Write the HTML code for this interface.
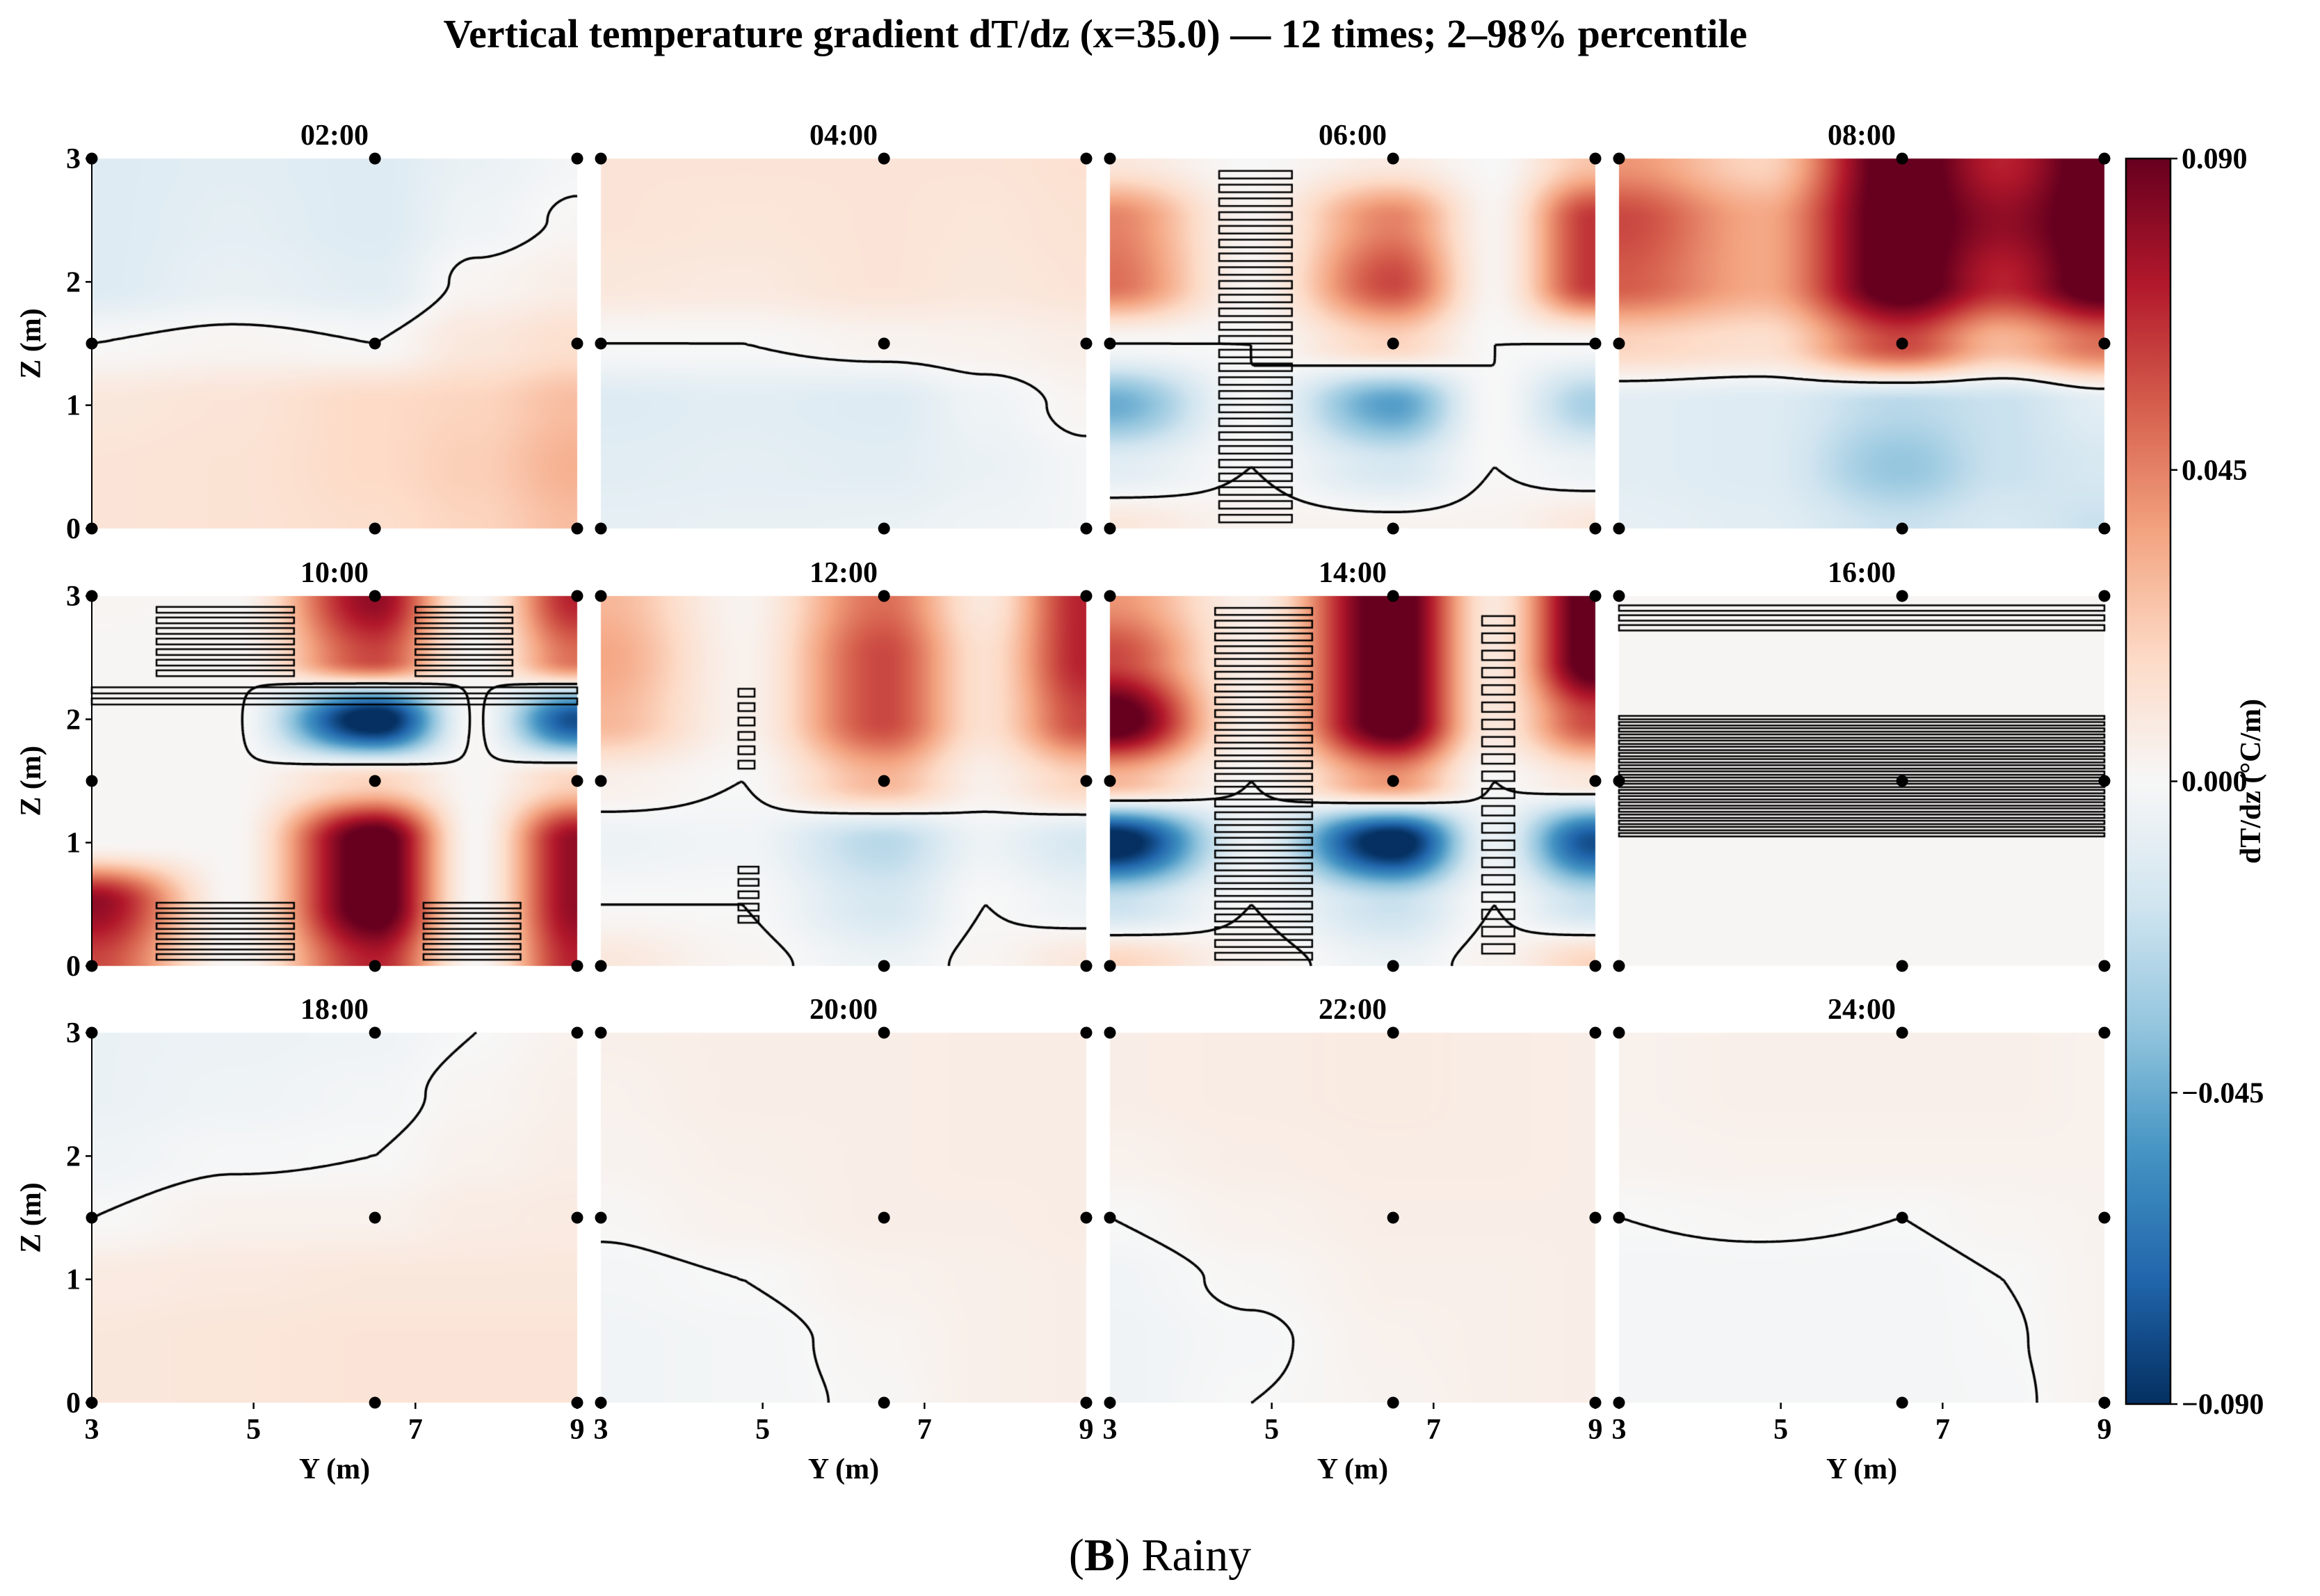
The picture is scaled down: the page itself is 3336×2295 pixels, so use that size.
<!DOCTYPE html>
<html><head><meta charset="utf-8">
<style>
html,body{margin:0;padding:0;background:#fff;}
#wrap{position:relative;width:3336px;height:2295px;overflow:hidden;}
canvas,svg{position:absolute;left:0;top:0;}
text,tspan{font-family:"Liberation Serif","DejaVu Serif",serif;}
</style></head>
<body>
<div id="wrap">
<canvas id="cv" width="3336" height="2295"></canvas>
<svg id="sv" width="3336" height="2295" font-family="Liberation Serif, DejaVu Serif, serif"></svg>
</div>
<script>
// ---- data ----
const times = ["02:00","04:00","06:00","08:00","10:00","12:00","14:00","16:00","18:00","20:00","22:00","24:00"];
const yNodes = [3,4.75,6.5,7.75,9];
const zNodes = [3,2.5,2,1.5,1,0.5,0];
const yTicks = [3,5,7,9];
const zTicks = [0,1,2,3];
const cbTicks = [0.09,0.045,0,-0.045,-0.09];
const cbTickLabels = ["0.090","0.045","0.000","\u22120.045","\u22120.090"];
const sensorsY = [3,6.5,9];
const sensorsZ = [0,1.5,3];
const f02 = [[-0.012,-0.01,-0.012,-0.006,-0.002],[-0.012,-0.009,-0.012,-0.004,0.001],[-0.012,-0.007,-0.01,0.002,0.006],[0,0.002,0,0.01,0.015],[0.01,0.012,0.018,0.02,0.028],[0.012,0.013,0.018,0.022,0.032],[0.012,0.013,0.016,0.02,0.028]];
const f04 = [[0.012,0.012,0.012,0.012,0.014],[0.012,0.011,0.012,0.011,0.013],[0.01,0.009,0.012,0.01,0.012],[0,0,0.003,0.004,0.006],[-0.012,-0.01,-0.012,-0.004,0.002],[-0.01,-0.009,-0.01,-0.006,-0.002],[-0.008,-0.007,-0.006,-0.004,-0.002]];
const f06 = [[0.01,0,0.008,0,0.025],[0.045,0.002,0.045,0.003,0.065],[0.05,0.002,0.06,0.003,0.065],[0,0,0.02,0,0],[-0.045,0,-0.05,0,-0.03],[-0.01,0,-0.015,0,-0.005],[0.01,0.003,0.003,0.003,0.01]];
const f08 = [[0.04,0.02,0.1,0.07,0.1],[0.06,0.035,0.1,0.08,0.1],[0.055,0.035,0.1,0.07,0.1],[0.02,0.015,0.06,0.03,0.05],[-0.01,-0.012,-0.025,-0.02,-0.01],[-0.01,-0.012,-0.035,-0.02,-0.015],[-0.008,-0.01,-0.02,-0.015,-0.02]];
const f10 = [[0.002,0.001,0.08,0.001,0.07],[0.001,0.001,0.06,0.001,0.05],[0.001,0.001,-0.1,0.001,-0.08],[0.001,0.001,0.02,0.001,0.02],[0.001,0.001,0.1,0.001,0.08],[0.08,0.001,0.1,0.001,0.08],[0.06,0.001,0.07,0.001,0.07]];
const f12 = [[0.03,0.003,0.05,0.01,0.07],[0.035,0.004,0.06,0.015,0.07],[0.03,0.004,0.06,0.015,0.06],[0.005,0,0.03,0.005,0.02],[-0.005,-0.003,-0.025,-0.005,-0.015],[0,0,-0.015,0,-0.005],[0.01,0.002,-0.005,0.002,0.01]];
const f14 = [[0.04,0.005,0.1,0.01,0.1],[0.06,0.005,0.1,0.01,0.1],[0.1,0.005,0.1,0.01,0.06],[0.03,0,0.04,0,0.01],[-0.1,-0.005,-0.1,-0.005,-0.08],[-0.02,0,-0.02,0,-0.02],[0.02,0.003,-0.005,0.003,0.02]];
const f16 = [[0.001,0.001,0.001,0.001,0.001],[0.001,0.001,0.001,0.001,0.001],[0.001,0.001,0.001,0.001,0.001],[0.001,0.001,0.001,0.001,0.001],[0.001,0.001,0.001,0.001,0.001],[0.001,0.001,0.001,0.001,0.001],[0.001,0.001,0.001,0.001,0.001]];
const f18 = [[-0.006,-0.005,-0.004,0,0.004],[-0.006,-0.004,-0.002,0.002,0.005],[-0.004,-0.001,0,0.004,0.006],[0,0.004,0.004,0.007,0.008],[0.008,0.009,0.01,0.01,0.01],[0.01,0.011,0.012,0.012,0.012],[0.01,0.011,0.012,0.012,0.012]];
const f20 = [[0.005,0.006,0.006,0.007,0.007],[0.004,0.006,0.006,0.007,0.007],[0.003,0.005,0.006,0.007,0.007],[0.001,0.004,0.006,0.006,0.007],[-0.002,0,0.004,0.005,0.006],[-0.003,-0.002,0.002,0.005,0.006],[-0.003,-0.002,0.001,0.005,0.006]];
const f22 = [[0.006,0.007,0.008,0.007,0.006],[0.006,0.007,0.008,0.007,0.006],[0.004,0.006,0.007,0.007,0.006],[0,0.004,0.006,0.006,0.006],[-0.003,0.001,0.005,0.005,0.006],[-0.004,-0.001,0.004,0.005,0.006],[-0.004,0,0.003,0.005,0.006]];
const f24 = [[0.004,0.005,0.005,0.005,0.004],[0.004,0.005,0.005,0.005,0.004],[0.003,0.004,0.004,0.004,0.004],[0,0.001,0,0.002,0.003],[-0.002,-0.002,-0.002,0,0.003],[-0.002,-0.002,-0.002,-0.0005,0.003],[-0.002,-0.002,-0.002,-0.001,0.003]];
const fields = [f02,f04,f06,f08,f10,f12,f14,f16,f18,f20,f22,f24];
// noise-contour bands: [panel, y0, y1, z0, z1, count]
const bands = [[2,4.35,5.25,0.05,2.95,26],[4,3.8,5.5,2.35,2.95,7],[4,7.0,8.2,2.35,2.95,7],[4,3.0,9.0,2.12,2.3,2],[4,3.8,5.5,0.05,0.55,6],[4,7.1,8.3,0.05,0.55,6],[5,4.7,4.95,0.35,0.85,5],[5,4.7,4.9,1.6,2.3,6],[6,4.3,5.5,0.05,2.95,28],[6,7.6,8.0,0.1,2.9,20],[7,3.0,9.0,2.72,2.96,3],[7,3.0,9.0,1.05,2.05,20]];

// ---- layout ----
const colL=[132,864,1596,2328], PW=698;
const rowT=[228,857,1485], PH=532;
const CB={x:3057,y:228,w:64,h:1791};
function px(c,y){return colL[c]+(y-3)/6*PW;}
function pz(r,z){return rowT[r]+(3-z)/3*PH;}

const stops=[[5,48,97],[33,102,172],[67,147,195],[146,197,222],[209,229,240],[247,247,247],[253,219,199],[244,165,130],[214,96,77],[178,24,43],[103,0,31]];
function cmap(v){let t=(v+0.09)/0.18;t=Math.max(0,Math.min(1,t))*10;let i=Math.min(9,Math.floor(t)),f=t-i;const a=stops[i],b=stops[i+1];return [a[0]+(b[0]-a[0])*f,a[1]+(b[1]-a[1])*f,a[2]+(b[2]-a[2])*f];}
function seg(arr,v){for(let i=0;i<arr.length-1;i++){const a=arr[i],b=arr[i+1];const lo=Math.min(a,b),hi=Math.max(a,b);if(v>=lo&&v<=hi){let t=(v-a)/(b-a);t=(1-Math.cos(Math.PI*t))/2;return [i,t];}}return [arr.length-2,1];}
function field(F,y,z){const [i,ty]=seg(yNodes,y);const [j,tz]=seg(zNodes,z);
const a=F[j][i]*(1-ty)+F[j][i+1]*ty, b=F[j+1][i]*(1-ty)+F[j+1][i+1]*ty; return a*(1-tz)+b*tz;}

const cv=document.getElementById('cv'),ctx=cv.getContext('2d');
const GW=180,GH=140;
fields.forEach((F,k)=>{
  const c=k%4,r=Math.floor(k/4);
  const off=document.createElement('canvas');off.width=GW;off.height=GH;
  const oc=off.getContext('2d');const img=oc.createImageData(GW,GH);
  const grid=[];
  for(let j=0;j<GH;j++){grid.push([]);for(let i=0;i<GW;i++){
    const y=3+6*i/(GW-1), z=3-3*j/(GH-1); const v=field(F,y,z); grid[j].push(v);
    const col=cmap(v);const p=(j*GW+i)*4;img.data[p]=col[0];img.data[p+1]=col[1];img.data[p+2]=col[2];img.data[p+3]=255;}}
  oc.putImageData(img,0,0);
  ctx.imageSmoothingEnabled=true;
  ctx.drawImage(off,colL[c],rowT[r],PW,PH);
  ctx.strokeStyle='#000';ctx.lineWidth=3.5;ctx.beginPath();
  const sx=PW/(GW-1),sy=PH/(GH-1);
  function ip(a,b){return a/(a-b);}
  for(let j=0;j<GH-1;j++)for(let i=0;i<GW-1;i++){
    const v0=grid[j][i],v1=grid[j][i+1],v2=grid[j+1][i+1],v3=grid[j+1][i];
    const pts=[];
    if((v0>0)!=(v1>0))pts.push([i+ip(v0,v1),j]);
    if((v1>0)!=(v2>0))pts.push([i+1,j+ip(v1,v2)]);
    if((v3>0)!=(v2>0))pts.push([i+ip(v3,v2),j+1]);
    if((v0>0)!=(v3>0))pts.push([i,j+ip(v0,v3)]);
    for(let q=0;q+1<pts.length;q+=2){ctx.moveTo(colL[c]+pts[q][0]*sx,rowT[r]+pts[q][1]*sy);ctx.lineTo(colL[c]+pts[q+1][0]*sx,rowT[r]+pts[q+1][1]*sy);}
  }
  ctx.stroke();
});
ctx.lineWidth=2.5;ctx.strokeStyle='#000';
bands.forEach(b=>{const k=b[0],c=k%4,r=Math.floor(k/4);const n=b[5];const dz=(b[4]-b[3])/n;
  for(let q=0;q<n;q++){const z0=b[3]+q*dz, z1=z0+dz*0.55;
    const x0=px(c,b[1]),x1=px(c,b[2]);ctx.strokeRect(x0,pz(r,z1),x1-x0,pz(r,z0)-pz(r,z1));}
});
const g=ctx.createLinearGradient(0,CB.y+CB.h,0,CB.y);
for(let i=0;i<=20;i++){const v=-0.09+0.18*i/20;const col=cmap(v);g.addColorStop(i/20,`rgb(${col[0]|0},${col[1]|0},${col[2]|0})`);}
ctx.fillStyle=g;ctx.fillRect(CB.x,CB.y,CB.w,CB.h);

// ---- SVG overlay ----
const sv=document.getElementById('sv');const NS='http://www.w3.org/2000/svg';
function el(t,a,txt){const e=document.createElementNS(NS,t);for(const k in a)e.setAttribute(k,a[k]);if(txt!==undefined)e.textContent=txt;sv.appendChild(e);return e;}
let e=el('text',{x:1575,y:68,'text-anchor':'middle','font-size':58,'font-weight':'bold'},'Vertical temperature gradient dT/dz (x=35.0) \u2014 12 times; 2\u201398% percentile');

times.forEach((t,k)=>{const c=k%4,r=Math.floor(k/4);
  const tt=el('text',{x:colL[c]+PW/2,y:rowT[r]-20,'text-anchor':'middle','font-size':42,'font-weight':'bold'},t);
  
  sensorsY.forEach(y=>sensorsZ.forEach(z=>{const d=el('circle',{cx:px(c,y),cy:pz(r,z),r:8.5,fill:'#000'});
    }));
  if(c===0){
    const ax=el('line',{x1:colL[0],y1:rowT[r],x2:colL[0],y2:rowT[r]+PH,stroke:'#000','stroke-width':2});
    
    zTicks.forEach(z=>{const tk=el('line',{x1:colL[0]-9,x2:colL[0],y1:pz(r,z),y2:pz(r,z),stroke:'#000','stroke-width':2.5});
      
      const tl=el('text',{x:colL[0]-16,y:pz(r,z)+14,'text-anchor':'end','font-size':42,'font-weight':'bold'},String(z));
      });
    const yl=el('text',{x:0,y:0,'text-anchor':'middle','font-size':42,'font-weight':'bold',transform:`translate(58,${rowT[r]+PH/2}) rotate(-90)`},'Z (m)');
    
  }
  if(r===2){
    yTicks.forEach(y=>{const tk=el('line',{x1:px(c,y),x2:px(c,y),y1:rowT[2]+PH,y2:rowT[2]+PH+9,stroke:'#000','stroke-width':2.5});
      
      const tl=el('text',{x:px(c,y),y:rowT[2]+PH+52,'text-anchor':'middle','font-size':42,'font-weight':'bold'},String(y));
      });
    const xl=el('text',{x:colL[c]+PW/2,y:2126,'text-anchor':'middle','font-size':42,'font-weight':'bold'},'Y (m)');
    
  }
});
const cbf=el('rect',{x:CB.x,y:CB.y,width:CB.w,height:CB.h,fill:'none',stroke:'#000','stroke-width':2.5});

cbTicks.forEach((v,i)=>{const y=CB.y+(0.09-v)/0.18*CB.h;
  const tk=el('line',{x1:CB.x+CB.w,x2:CB.x+CB.w+10,y1:y,y2:y,stroke:'#000','stroke-width':2.5});
  
  const tl=el('text',{x:CB.x+CB.w+16,y:y+14,'font-size':42,'font-weight':'bold'},cbTickLabels[i]);
  });
const cl=el('text',{x:0,y:0,'text-anchor':'middle','font-size':42,'font-weight':'bold',transform:`translate(3250,${CB.y+CB.h/2}) rotate(-90)`},'dT/dz (\u00B0C/m)');

const cap=el('text',{x:1668,y:2258,'text-anchor':'middle','font-size':66,'font-family':'Liberation Serif, DejaVu Serif, serif'});

const t1=document.createElementNS(NS,'tspan');t1.textContent='(';cap.appendChild(t1);
const t2=document.createElementNS(NS,'tspan');t2.setAttribute('font-weight','bold');t2.textContent='B';cap.appendChild(t2);
const t3=document.createElementNS(NS,'tspan');t3.textContent=') Rainy';cap.appendChild(t3);
</script>
</body></html>
